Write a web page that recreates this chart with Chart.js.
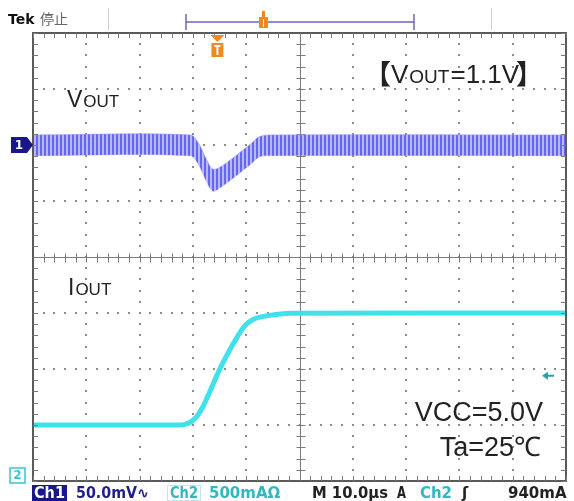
<!DOCTYPE html>
<html>
<head>
<meta charset="utf-8">
<script src="https://cdn.jsdelivr.net/npm/chart.js@4.4.1/dist/chart.umd.min.js"></script>
<style>
  html, body { margin: 0; padding: 0; background: #fff; }
  #wrap { width: 574px; height: 501px; }
</style>
</head>
<body>
<div id="wrap"><canvas id="scope" width="574" height="501"></canvas></div>
<script>
// time axis in µs (10 µs/div), Vout in mV around 1.1 V (50 mV/div), Iout in mA (500 mA/div)
const voutTime = [-50, -20.5, -19, -17.5, -16.3, -15, -13, -11, -9, -7.5, -5, 50];
const voutHigh = [9, 9, 2, -12.5, -21.5, -20, -13.5, -6, 1.5, 7.5, 9, 9];
const voutLow  = [-9.5, -9.5, -17, -32, -41, -38.5, -31.5, -24, -16.5, -10.5, -9.5, -9.5];

const ioutTime = [-50, -23, -21.5, -20.3, -19.2, -18.1, -16.9, -15, -13.1, -11.5, -10.2, -8.8, -7, -4.5, -1.5, 50];
const ioutMa   = [500, 500, 506, 530, 580, 665, 790, 995, 1170, 1300, 1390, 1440, 1468, 1486, 1497, 1500];

const triggerTime = -15.4;   // µs
const triggerLevel = 940;    // mA

const statusItems = ['Ch1', '50.0mV∿', 'Ch2', '500mAΩ', 'M 10.0µs', 'A', 'Ch2', 'ʃ', '940mA'];

function pts(xs, ys) { return xs.map((x, i) => ({ x: x, y: ys[i] })); }

// striped fill to look like the ripple on the Vout trace
const pc = document.createElement('canvas');
pc.width = 4; pc.height = 2;
const pctx = pc.getContext('2d');
pctx.fillStyle = '#b8b8f8'; pctx.fillRect(0, 0, 4, 2);
pctx.fillStyle = '#6666ef'; pctx.fillRect(0, 0, 2, 2);
const ripple = pctx.createPattern(pc, 'repeat');

const scopePlugin = {
  id: 'scope',
  beforeDraw(chart) {
    const c = chart.ctx;
    c.save();
    c.fillStyle = '#fff';
    c.fillRect(0, 0, chart.width, chart.height);
    c.restore();
  },
  beforeDatasetsDraw(chart) {
    const c = chart.ctx, a = chart.chartArea;
    const sx = chart.scales.x, sy = chart.scales.y;
    c.save();
    // dotted grid
    c.fillStyle = '#8c8c8c';
    for (let t = -40; t <= 40; t += 10) {
      if (t === 0) continue;
      const px = Math.round(sx.getPixelForValue(t));
      for (let v = -300; v <= 100; v += 10) {
        c.fillRect(px - 1, Math.round(sy.getPixelForValue(v)) - 1, 2, 2);
      }
    }
    for (let v = -250; v <= 50; v += 50) {
      if (v === -100) continue;
      const py = Math.round(sy.getPixelForValue(v));
      for (let t = -50; t <= 50; t += 2) {
        c.fillRect(Math.round(sx.getPixelForValue(t)) - 1, py - 1, 2, 2);
      }
    }
    // centre cross with minor ticks
    c.strokeStyle = '#7a7a7a';
    c.lineWidth = 1;
    const cx = Math.round(sx.getPixelForValue(0)) + 0.5;
    const cy = Math.round(sy.getPixelForValue(-100)) + 0.5;
    c.beginPath();
    c.moveTo(cx, a.top); c.lineTo(cx, a.bottom);
    c.moveTo(a.left, cy); c.lineTo(a.right, cy);
    for (let v = -300; v <= 100; v += 10) {
      const py = Math.round(sy.getPixelForValue(v)) + 0.5;
      c.moveTo(cx - 4, py); c.lineTo(cx + 5, py);
    }
    for (let t = -50; t <= 50; t += 2) {
      const px = Math.round(sx.getPixelForValue(t)) + 0.5;
      c.moveTo(px, cy - 4); c.lineTo(px, cy + 5);
    }
    c.stroke();
    c.restore();
  },
  afterDatasetsDraw(chart) {
    const c = chart.ctx, a = chart.chartArea;
    const sx = chart.scales.x, sy = chart.scales.y, sy2 = chart.scales.y2;
    c.save();
    // frame with inward ticks
    c.strokeStyle = '#5a5a5a';
    c.lineWidth = 2;
    c.strokeRect(a.left, a.top, a.right - a.left, a.bottom - a.top);
    c.lineWidth = 1;
    c.strokeStyle = '#7a7a7a';
    c.beginPath();
    for (let v = -300; v <= 100; v += 10) {
      const py = Math.round(sy.getPixelForValue(v)) + 0.5;
      c.moveTo(a.left, py); c.lineTo(a.left + 5, py);
      c.moveTo(a.right, py); c.lineTo(a.right - 5, py);
    }
    for (let t = -50; t <= 50; t += 2) {
      const px = Math.round(sx.getPixelForValue(t)) + 0.5;
      c.moveTo(px, a.top); c.lineTo(px, a.top + 5);
      c.moveTo(px, a.bottom); c.lineTo(px, a.bottom - 5);
    }
    c.stroke();

    // header
    c.fillStyle = '#111';
    c.font = 'bold 14px "DejaVu Sans"';
    c.textBaseline = 'alphabetic';
    c.fillText('Tek', 8, 24);
    c.fillStyle = '#666';
    c.font = '14px "Noto Sans CJK JP"';
    c.fillText('停止', 40, 24);
    c.strokeStyle = '#cfcfcf';
    c.beginPath();
    c.moveTo(108.5, 8); c.lineTo(108.5, 30);
    c.moveTo(491.5, 8); c.lineTo(491.5, 30);
    c.stroke();
    c.strokeStyle = '#6b6bb0';
    c.lineWidth = 1.5;
    c.beginPath();
    c.moveTo(186, 22); c.lineTo(414, 22);
    c.moveTo(186, 14); c.lineTo(186, 30);
    c.moveTo(414, 14); c.lineTo(414, 30);
    c.stroke();
    c.fillStyle = '#f08a20';
    c.fillRect(259, 17, 9, 11);
    c.fillRect(262, 11, 3, 6);
    c.fillStyle = '#fff';
    c.fillRect(263, 19, 1, 8);

    // trigger position marker
    const tx = sx.getPixelForValue(triggerTime);
    c.fillStyle = '#f08a20';
    c.beginPath();
    c.moveTo(tx - 7, a.top + 2); c.lineTo(tx + 7, a.top + 2); c.lineTo(tx, a.top + 9);
    c.fill();
    c.fillRect(tx - 6, a.top + 10, 12, 14);
    c.fillStyle = '#fff';
    c.fillRect(tx - 3, a.top + 12, 6, 2);
    c.fillRect(tx - 1, a.top + 12, 2, 10);

    // trigger level arrow
    const ty = sy2.getPixelForValue(triggerLevel);
    c.fillStyle = '#2a9fa4';
    c.beginPath();
    c.moveTo(a.right - 24, ty); c.lineTo(a.right - 18, ty - 4); c.lineTo(a.right - 18, ty + 4);
    c.fill();
    c.fillRect(a.right - 18, ty - 1, 6, 2);

    // channel ground markers
    const g1 = sy.getPixelForValue(0);
    c.fillStyle = '#17178a';
    c.fillRect(11, g1 - 8, 16, 16);
    c.beginPath();
    c.moveTo(27, g1 - 8); c.lineTo(a.left, g1); c.lineTo(27, g1 + 8);
    c.fill();
    c.fillStyle = '#fff';
    c.font = 'bold 12px "DejaVu Sans"';
    c.textAlign = 'center';
    c.textBaseline = 'middle';
    c.fillText('1', 19, g1 + 1);
    const g2 = sy2.getPixelForValue(0);
    c.strokeStyle = '#39c6cc';
    c.lineWidth = 1.5;
    c.strokeRect(10, g2 - 13, 15, 15);
    c.fillStyle = '#39c6cc';
    c.fillText('2', 17.5, g2 - 5);

    // trace labels
    c.textAlign = 'left';
    c.textBaseline = 'alphabetic';
    c.fillStyle = '#222';
    const label = (big, small, x, y, bs, ss) => {
      c.font = bs + 'px "Liberation Sans"';
      c.fillText(big, x, y);
      const w = c.measureText(big).width;
      c.font = ss + 'px "Liberation Sans"';
      c.fillText(small, x + w + 1, y);
      return x + w + 1 + c.measureText(small).width;
    };
    label('V', 'OUT', 67, 107, 23, 17);
    label('I', 'OUT', 68, 295, 23, 17);

    c.font = 'bold 27px "Noto Sans CJK JP"';
    c.fillText('【', 364, 84);
    let x2 = label('V', 'OUT', 391, 83, 26, 19);
    c.font = '26px "Liberation Sans"';
    c.fillText('=1.1V', x2 + 1, 83);
    x2 = x2 + 1 + c.measureText('=1.1V').width;
    c.font = 'bold 27px "Noto Sans CJK JP"';
    c.fillText('】', x2 - 3, 84);

    c.font = '27px "Liberation Sans"';
    c.textAlign = 'right';
    c.fillText('VCC=5.0V', 543, 421);
    c.fillText('Ta=25℃', 541, 456);

    // status bar
    c.textAlign = 'left';
    c.font = 'bold 15px "DejaVu Sans"';
    const sty = 498;
    const pos = [34, 76, 170, 209, 312, 397, 420, 462, 508];
    const wid = [31, 73, 28, 82, 76, 9, 32, 9, 60];
    const col = ['#fff', '#1e1e8c', '#2fb8c0', '#2fb8c0', '#222', '#222', '#2fb8c0', '#222', '#222'];
    c.fillStyle = '#17178a';
    c.fillRect(32, 485, 35, 16);
    c.strokeStyle = '#bfe9ec';
    c.lineWidth = 1;
    c.strokeRect(167.5, 485.5, 33, 15);
    statusItems.forEach((s, i) => {
      c.fillStyle = col[i];
      c.fillText(s, pos[i], sty, wid[i]);
    });
    c.restore();
  }
};

new Chart(document.getElementById('scope'), {
  type: 'line',
  data: {
    datasets: [{
      label: 'Vout high',
      data: pts(voutTime, voutHigh),
      yAxisID: 'y',
      borderColor: 'rgba(150,150,245,0.6)',
      borderWidth: 1,
      backgroundColor: ripple,
      fill: '+1',
      pointRadius: 0,
      tension: 0.35
    }, {
      label: 'Vout low',
      data: pts(voutTime, voutLow),
      yAxisID: 'y',
      borderColor: 'rgba(150,150,245,0.6)',
      borderWidth: 1,
      fill: false,
      pointRadius: 0,
      tension: 0.35
    }, {
      label: 'Iout',
      data: pts(ioutTime, ioutMa),
      yAxisID: 'y2',
      borderColor: '#3fe2ea',
      borderWidth: 5,
      fill: false,
      pointRadius: 0,
      tension: 0.4
    }]
  },
  options: {
    responsive: false,
    animation: false,
    layout: { padding: { left: 33, right: 8, top: 33, bottom: 20 } },
    plugins: { legend: { display: false }, tooltip: { enabled: false } },
    scales: {
      x: { type: 'linear', min: -50, max: 50, display: false },
      y: { type: 'linear', min: -300, max: 100, display: false },
      y2: { type: 'linear', min: 0, max: 4000, display: false }
    }
  },
  plugins: [scopePlugin]
});
</script>
</body>
</html>
